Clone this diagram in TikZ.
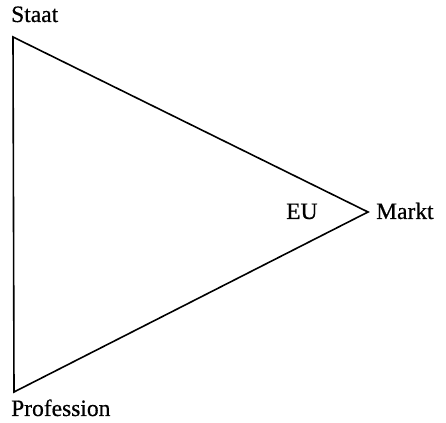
\documentclass[tikz,border=0pt]{standalone}
\usepackage{fontspec}
\setmainfont{Liberation Serif}[FakeBold=0.6]
\begin{document}
\begin{tikzpicture}[x=1pt,y=1pt,
  lbl/.style={inner sep=0pt,anchor=base west,font=\fontsize{23.5}{26}\selectfont},
  edge/.style={line width=1.6pt,line join=miter}]
\useasboundingbox (0,0) rectangle (446,422);
\coordinate (S) at (13,385);
\coordinate (P) at (14,30);
\coordinate (M) at (368,210);
\draw[edge] (S) -- (M) -- (P) -- cycle;
\node[lbl] (staat) at (11,400) {Staat};
\node[lbl] (markt) at (376,203) {Markt};
\node[lbl] (eu) at (286,203) {EU};
\node[lbl] (prof) at (11,6) {Profession};
\end{tikzpicture}
\end{document}
